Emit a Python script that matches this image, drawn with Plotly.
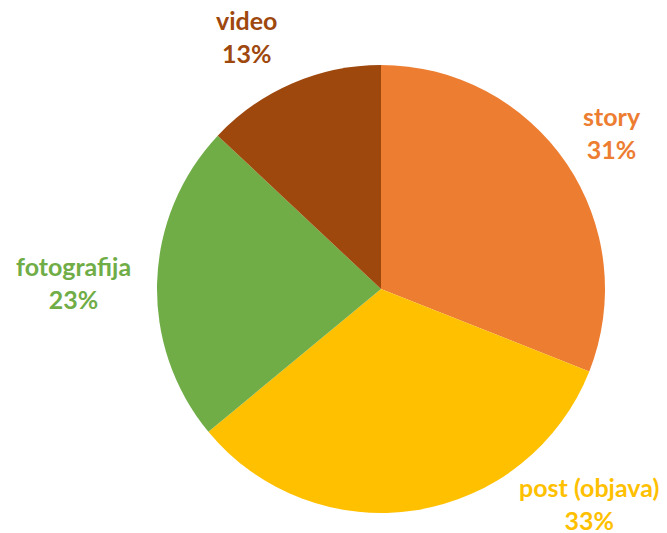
import plotly.graph_objects as go

labels = ["story", "post (objava)", "fotografija", "video"]
values = [31, 33, 23, 13]
colors = ["#ED7D31", "#FFC000", "#70AD47", "#9E480E"]
# label anchor positions (paper coords)
label_x = [612/667, 589/667, 73/667, 246/667]
label_y = [1-133/533, 1-503/533, 1-282/533, 1-36/533]

W, H = 667, 533
cx, cy, r = 381, 289, 224

fig = go.Figure(go.Pie(
    labels=labels, values=values, sort=False, direction="clockwise", rotation=0,
    marker=dict(colors=colors, line=dict(width=0)),
    textinfo="none", hoverinfo="label+percent", showlegend=False,
    domain=dict(x=[(cx-r)/W, (cx+r)/W], y=[(H-cy-r)/H, (H-cy+r)/H]),
))
total = sum(values)
for lab, v, c, x, y in zip(labels, values, colors, label_x, label_y):
    fig.add_annotation(x=x, y=y, xref="paper", yref="paper", showarrow=False,
                       text=f"<b>{lab}<br>{round(100*v/total)}%</b>",
                       font=dict(family="Lato", size=25, color=c),
                       xanchor="center", yanchor="middle", align="center")
fig.update_layout(width=W, height=H, margin=dict(l=0, r=0, t=0, b=0),
                  paper_bgcolor="white", plot_bgcolor="white")
fig.write_html("out.html", config={"displayModeBar": False},
               post_script="document.body.style.margin='0';")
